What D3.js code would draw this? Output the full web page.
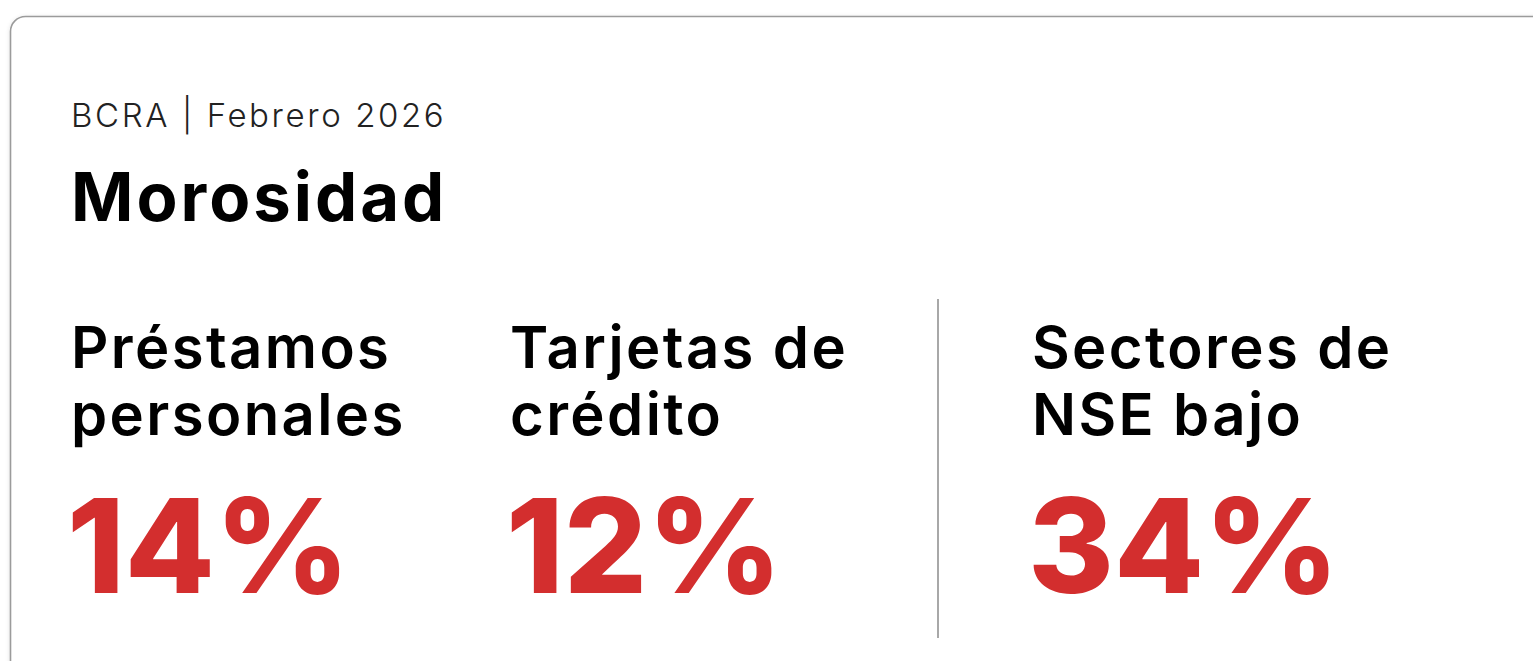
<!DOCTYPE html>
<html>
<head>
<meta charset="utf-8">
<script src="https://cdn.jsdelivr.net/npm/d3@7"></script>
<style>
  html, body { margin: 0; padding: 0; background: #fff; }
  svg { display: block; font-family: Inter, "Open Sans", sans-serif; }
</style>
</head>
<body>
<svg width="1533" height="661"></svg>
<script>
// data
var source = "BCRA | Febrero 2026";
var title = "Morosidad";
var labels = [["Préstamos", "personales"], ["Tarjetas de", "crédito"], ["Sectores de", "NSE bajo"]];
var values = [14, 12, 34];
var groups = ["credito", "credito", "nse"];

var svg = d3.select("svg"),
    width = +svg.attr("width"),
    height = +svg.attr("height");

var defs = svg.append("defs");
var f = defs.append("filter").attr("id", "shadow").attr("x", "-5%").attr("y", "-5%").attr("width", "110%").attr("height", "110%");
f.append("feDropShadow").attr("dx", 0).attr("dy", 1).attr("stdDeviation", 2).attr("flood-color", "#000").attr("flood-opacity", 0.12);

// card
svg.append("rect")
    .attr("x", 10.5).attr("y", 16.5)
    .attr("width", width + 40).attr("height", height + 40)
    .attr("rx", 15)
    .attr("fill", "#fff")
    .attr("stroke", "#9b9b9b")
    .attr("stroke-width", 1.6)
    .attr("filter", "url(#shadow)");

svg.append("text")
    .attr("x", 71).attr("y", 127)
    .attr("font-size", 33).attr("font-weight", 300)
    .attr("letter-spacing", 2.6)
    .attr("fill", "#222")
    .text(source);

svg.append("text")
    .attr("x", 71).attr("y", 221)
    .attr("font-size", 67).attr("font-weight", 700)
    .attr("letter-spacing", 3)
    .attr("fill", "#000")
    .text(title);

// column position: index scale plus a shift for the second group
var x = d3.scaleLinear().domain([0, 1]).range([71, 510]);
var groupShift = d3.scaleOrdinal().domain(["credito", "nse"]).range([0, 83]);
var colX = function(i) { return x(i) + groupShift(groups[i]); };

var col = svg.selectAll(".kpi")
    .data(values)
    .enter().append("g")
    .attr("class", "kpi")
    .attr("transform", function(d, i) { return "translate(" + colX(i) + ",0)"; });

col.append("text")
    .attr("y", 368)
    .attr("font-size", 58).attr("font-weight", 600)
    .attr("letter-spacing", 2.4)
    .attr("fill", "#000")
    .selectAll("tspan")
    .data(function(d, i) { return labels[i]; })
    .enter().append("tspan")
    .attr("x", 0)
    .attr("dy", function(d, j) { return j ? 67 : 0; })
    .text(function(d) { return d; });

col.append("text")
    .attr("x", -4).attr("y", 593)
    .attr("font-size", 131).attr("font-weight", 800)
    .attr("fill", "#d32e2e")
    .text(function(d) { return d + "%"; });

// divider between the two groups
var divX = colX(2) - 94;
svg.append("line")
    .attr("x1", divX).attr("x2", divX)
    .attr("y1", 299).attr("y2", 638)
    .attr("stroke", "#a8a8a8")
    .attr("stroke-width", 2);
</script>
</body>
</html>
